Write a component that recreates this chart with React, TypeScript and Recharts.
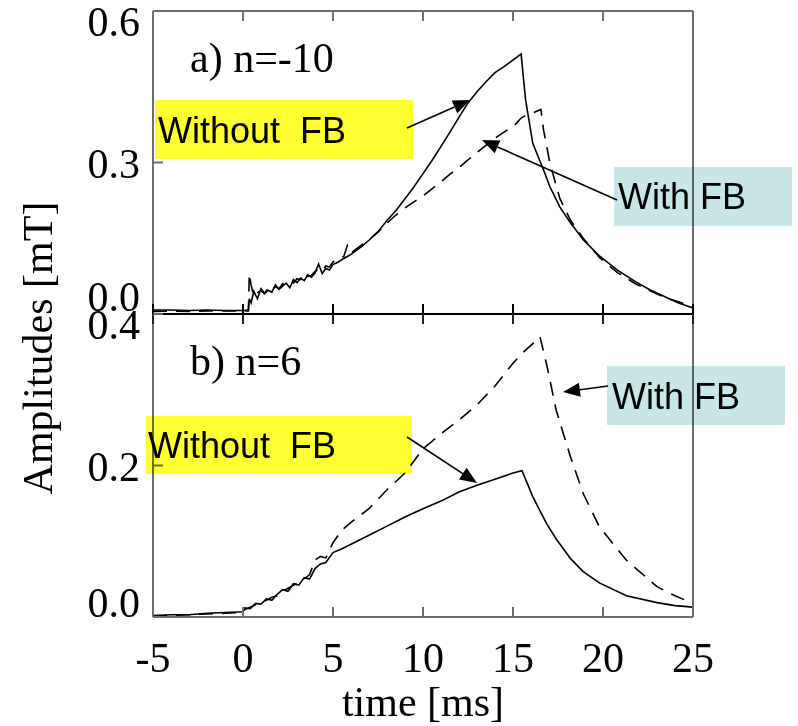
import { LineChart, Line, XAxis, YAxis } from "recharts";

// time base (ms) and amplitudes (mT), panel a) n=-10
const timeA = [
  -5, -4, -3, -2, -1, 0, 0.3, 0.35, 0.45, 0.6,
  0.8, 1.0, 1.2, 1.4, 1.6, 1.8, 2.0, 2.2, 2.4, 2.6,
  2.8, 3.0, 3.2, 3.4, 3.6, 3.8, 4.0, 4.2, 4.4, 4.6,
  4.8, 5.0, 5.3, 5.6, 5.8, 6.0, 6.3, 6.6, 7.0, 7.5,
  8.0, 8.5, 9.0, 9.5, 10, 10.5, 11, 11.5, 12, 12.5,
  13, 13.5, 14, 14.5, 15, 15.2, 15.45, 15.7, 16.1, 16.55,
  16.7, 17.05, 17.6, 18.2, 18.9, 19.8, 20.8, 21.8, 22.6, 23.5,
  24.2, 25,
];
const withoutFbA = [
  0.008, 0.008, 0.007, 0.008, 0.007, 0.007, 0.008, 0.03, 0.022, 0.045,
  0.03, 0.05, 0.041, 0.047, 0.043, 0.058, 0.049, 0.055, 0.061, 0.052,
  0.068, 0.062, 0.071, 0.066, 0.078, 0.073, 0.081, 0.099, 0.08, 0.09,
  0.087, 0.098, 0.103, 0.11, 0.114, 0.118, 0.126, 0.134, 0.146, 0.163,
  0.185, 0.205, 0.228, 0.252, 0.278, 0.304, 0.332, 0.36, 0.39, 0.418,
  0.44, 0.46, 0.478, 0.49, 0.503, 0.508, 0.515, 0.424, 0.338, 0.298,
  0.285, 0.252, 0.212, 0.18, 0.147, 0.115, 0.087, 0.064, 0.048, 0.033,
  0.022, 0.012,
];
const withFbA = [
  0.005, 0.006, 0.005, 0.006, 0.006, 0.006, 0.006, 0.08, 0.057, 0.035,
  0.042, 0.046, 0.04, 0.052, 0.047, 0.054, 0.05, 0.06, 0.057, 0.063,
  0.061, 0.07, 0.068, 0.082, 0.074, 0.077, 0.084, 0.09, 0.086, 0.095,
  0.093, 0.103, 0.108, 0.114, 0.136, 0.121, 0.129, 0.137, 0.147, 0.162,
  0.18, 0.196, 0.21, 0.222, 0.234, 0.248, 0.262, 0.277, 0.29, 0.305,
  0.32, 0.334, 0.348, 0.36, 0.372, 0.378, 0.388, 0.393, 0.398, 0.405,
  0.364, 0.299, 0.229, 0.185, 0.15, 0.112, 0.082, 0.06, 0.046, 0.032,
  0.024, 0.015,
];

// panel b) n=6
const timeB = [
  -5, -4, -3, -2, -1, 0, 0.1, 0.4, 0.7, 1.0,
  1.3, 1.6, 1.9, 2.2, 2.5, 2.8, 3.1, 3.4, 3.7, 4.0,
  4.3, 4.6, 5.0, 5.5, 6.0, 7.0, 8.0, 9.0, 10, 11,
  12, 13, 14, 15, 15.5, 16.1, 16.5, 16.9, 17.4, 18.2,
  18.9, 19.8, 21.3, 23, 24, 25,
];
const withoutFbB = [
  0.002, 0.003, 0.003, 0.005, 0.006, 0.007, 0.012, 0.011, 0.018, 0.017,
  0.024, 0.022, 0.03, 0.036, 0.034, 0.044, 0.042, 0.052, 0.05, 0.064,
  0.07, 0.072, 0.085, 0.09, 0.096, 0.108, 0.12, 0.132, 0.143, 0.153,
  0.165, 0.174, 0.182, 0.19, 0.193, 0.159, 0.14, 0.122, 0.103, 0.077,
  0.06, 0.045, 0.028, 0.019, 0.015, 0.013,
];
const withFbB = [
  0.001, 0.002, 0.003, 0.004, 0.005, 0.006, 0.01, 0.013, 0.016, 0.02,
  0.022, 0.026, 0.028, 0.034, 0.038, 0.042, 0.046, 0.05, 0.056, 0.075,
  0.08, 0.078, 0.098, 0.115, 0.125, 0.143, 0.168, 0.19, 0.222, 0.242,
  0.26, 0.28, 0.305, 0.335, 0.348, 0.361, 0.37, 0.33, 0.273, 0.211,
  0.163, 0.119, 0.075, 0.04, 0.028, 0.018,
];

const xTicks = [-5, 0, 5, 10, 15, 20, 25];
const yTicksA = [0, 0.3, 0.6];
const yTicksB = [0, 0.2, 0.4];

const rowsA = timeA.map((t, i) => ({ t, without: withoutFbA[i], withFb: withFbA[i] }));
const rowsB = timeB.map((t, i) => ({ t, without: withoutFbB[i], withFb: withFbB[i] }));

const SERIF = "'Liberation Serif', 'Times New Roman', serif";
const SANS = "'Liberation Sans', Arial, sans-serif";
const FRAME = "#6e6e6e";
const YELLOW = "#ffff33";
const TEAL = "#c8e6e8";
const TICK_LEN = 10;

type TickOpts = { side: string; color: string; showLabel?: boolean; hi?: number };

// inward tick mark at the axis position, plus an optional label
function frameTick(opts: TickOpts) {
  return (p: any) => {
    const { x, y, payload } = p;
    const v = payload.value;
    const { side, color, showLabel, hi } = opts;
    let x2 = x;
    let y2 = y;
    if (side === "bottom") y2 = y - TICK_LEN;
    if (side === "top") y2 = y + TICK_LEN;
    if (side === "left") x2 = x + TICK_LEN;
    if (side === "right") x2 = x - TICK_LEN;
    let label = null;
    if (side === "bottom" && showLabel) {
      label = (
        <text x={x} y={y + 55} textAnchor="middle" fontFamily={SERIF} fontSize={42} fill="#000">
          {v}
        </text>
      );
    }
    if (side === "left") {
      let dy = 15;
      if (v === hi) dy = 25;
      if (v === 0) dy = hi === 0.6 ? -3 : 0;
      label = (
        <text x={x - 13} y={y + dy} textAnchor="end" fontFamily={SERIF} fontSize={42} fill="#000">
          {v.toFixed(1)}
        </text>
      );
    }
    return (
      <g>
        <path d={`M${x},${y}L${x2},${y2}`} stroke={color} strokeWidth={2} fill="none" />
        {label}
      </g>
    );
  };
}

function Panel({ rows, yTicks, yMax, topH, bottomH, height, bottomStroke, showX }: any) {
  const common = { tickSize: 0, tickMargin: 0, tickLine: false, strokeWidth: 2 };
  return (
    <LineChart width={798} height={height} data={rows} margin={{ top: 0, right: 0, bottom: 0, left: 0 }}>
      <XAxis
        xAxisId="b"
        dataKey="t"
        type="number"
        domain={[-5, 25]}
        ticks={xTicks}
        height={bottomH}
        stroke={bottomStroke}
        {...common}
        tick={frameTick({ side: "bottom", showLabel: showX, color: bottomStroke })}
      />
      <XAxis
        xAxisId="t"
        orientation="top"
        dataKey="t"
        type="number"
        domain={[-5, 25]}
        ticks={xTicks}
        height={topH}
        stroke={FRAME}
        axisLine={!showX}
        {...common}
        tick={frameTick({ side: "top", color: showX ? "#222" : FRAME })}
      />
      <YAxis
        yAxisId="l"
        type="number"
        domain={[0, yMax]}
        ticks={yTicks}
        width={153}
        stroke={FRAME}
        {...common}
        tick={frameTick({ side: "left", color: FRAME, hi: yMax })}
      />
      <YAxis
        yAxisId="r"
        orientation="right"
        type="number"
        domain={[0, yMax]}
        ticks={yTicks}
        width={105}
        stroke={FRAME}
        {...common}
        tick={frameTick({ side: "right", color: FRAME })}
      />
      <Line
        xAxisId="b"
        yAxisId="l"
        dataKey="without"
        type="linear"
        stroke="#000"
        strokeWidth={1.6}
        dot={false}
        isAnimationActive={false}
      />
      <Line
        xAxisId="b"
        yAxisId="l"
        dataKey="withFb"
        type="linear"
        stroke="#000"
        strokeWidth={1.6}
        strokeDasharray="14 9"
        dot={false}
        isAnimationActive={false}
      />
    </LineChart>
  );
}

function Arrow({ from, to }: { from: number[]; to: number[] }) {
  const [x1, y1] = from;
  const [x2, y2] = to;
  const len = Math.hypot(x2 - x1, y2 - y1);
  const ux = (x2 - x1) / len;
  const uy = (y2 - y1) / len;
  const hl = 17;
  const hw = 7;
  const bx = x2 - ux * hl;
  const by = y2 - uy * hl;
  const pts = `${x2},${y2} ${bx - uy * hw},${by + ux * hw} ${bx + uy * hw},${by - ux * hw}`;
  return (
    <g>
      <line x1={x1} y1={y1} x2={bx} y2={by} stroke="#000" strokeWidth={1.6} />
      <polygon points={pts} fill="#000" />
    </g>
  );
}

function Tag({ x, y, w, h, fill, text, tx, ty }: any) {
  return (
    <g>
      <rect x={x} y={y} width={w} height={h} fill={fill} />
      <text x={tx} y={ty} fontFamily={SANS} fontSize={36} fill="#000" style={{ whiteSpace: "pre" }}>
        {text}
      </text>
    </g>
  );
}

export default function App() {
  return (
    <div style={{ position: "absolute", left: 0, top: 0, width: 798, height: 726, background: "#fff" }}>
      <div style={{ position: "absolute", left: 0, top: 0 }}>
        <Panel rows={rowsA} yTicks={yTicksA} yMax={0.6} topH={11} bottomH={16} height={330} bottomStroke="#000" showX={false} />
      </div>
      <div style={{ position: "absolute", left: 0, top: 300 }}>
        <Panel rows={rowsB} yTicks={yTicksB} yMax={0.4} topH={14} bottomH={109} height={426} bottomStroke={FRAME} showX={true} />
      </div>
      <svg
        width={798}
        height={726}
        style={{ position: "absolute", left: 0, top: 0, mixBlendMode: "multiply", pointerEvents: "none" }}
      >
        <text transform="translate(52,348) rotate(-90)" textAnchor="middle" fontFamily={SERIF} fontSize={42} fill="#000">
          Amplitudes [mT]
        </text>
        <text x={423} y={716} textAnchor="middle" fontFamily={SERIF} fontSize={42} fill="#000">
          time [ms]
        </text>
        <text x={190} y={72} fontFamily={SERIF} fontSize={42} fill="#000">
          a) n=-10
        </text>
        <text x={190} y={375} fontFamily={SERIF} fontSize={42} fill="#000">
          b) n=6
        </text>

        <Tag x={155} y={100} w={258} h={59} fill={YELLOW} text={"Without  FB"} tx={158} ty={143} />
        <Tag x={614} y={167} w={178} h={59} fill={TEAL} text={"With FB"} tx={618} ty={209} />
        <Arrow from={[407, 128]} to={[470, 100]} />
        <Arrow from={[617, 200]} to={[482, 140]} />

        <Tag x={146} y={416} w={266} h={58} fill={YELLOW} text={"Without  FB"} tx={148} ty={458} />
        <Tag x={607} y={366} w={178} h={59} fill={TEAL} text={"With FB"} tx={612} ty={409} />
        <Arrow from={[407, 437]} to={[477, 483]} />
        <Arrow from={[608, 386]} to={[563, 392]} />
      </svg>
    </div>
  );
}
